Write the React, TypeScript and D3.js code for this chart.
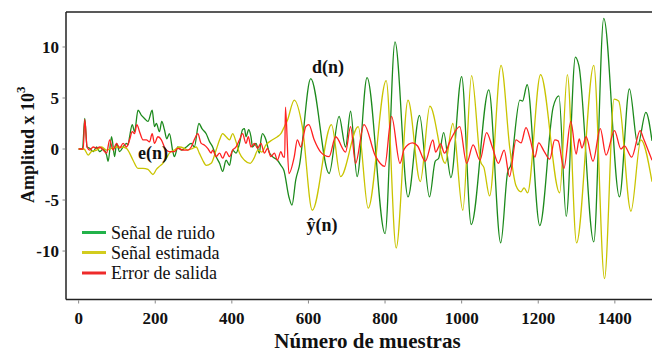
import React from 'react';
import * as d3 from 'd3';

type P = [number, number];

const xTicks = [0, 200, 400, 600, 800, 1000, 1200, 1400];
const yTicks = [-10, -5, 0, 5, 10];
const legendLabels = ['Señal de ruido', 'Señal estimada', 'Error de salida'];
const seriesColors = ['#1c8a1c', '#c9c400', '#ff2020'];
const legendColors = ['#22b24a', '#d2cc1e', '#ee2a2a'];

// d(n): noise signal (x10^3)
const noisePoints: P[] = [
  [0, 0], [10, 0], [16, 3.0], [22, 0.2], [29, 0.07], [38, -0.26], [47, 0.2], [55, -0.26], [64, 0], [73, -0.6],
  [77, -1.2], [86, 1.2], [94, -0.75], [99, 0.55], [107, -0.26], [116, 0.2], [125, 0.55], [129, 0.4], [133, 1.2],
  [140, 2.4], [146, 1.7], [155, 3.8], [164, 3.3], [172, 3.0], [181, 2.7], [192, 3.8], [198, 2.2], [203, 2.5],
  [211, 1.7], [217, 2.7], [224, 1.9], [230, 1.0], [237, 1.5], [246, -0.26], [250, -0.75], [259, 0.2], [268, -0.1],
  [281, 0.2], [294, 0.55], [302, 0.2], [314, 2.5], [322, 2.0], [333, 1.5], [342, 0.7], [350, 0.2], [359, -0.75],
  [368, -1.4], [376, -2.2], [385, -1.1], [394, -1.6], [402, -0.1], [411, -0.4], [420, 0.55], [428, 1.9], [433, 2.0],
  [437, 1.2], [444, 1.9], [450, 1.2], [454, 0.2], [463, 0.55], [472, -0.4], [476, 0.9], [480, 1.5], [489, 0.9],
  [497, -0.26], [506, -0.75], [519, -1.1], [528, -1.6], [536, -2.1], [549, -4.7], [557, -5.5], [567, -3.0],
  [576, -1.7], [606, 6.9], [654, -2.4], [680, 3.2], [697, 0.2], [710, 3.7], [727, -2.7], [753, 7.0], [800, -8.3],
  [826, 10.5], [860, -4.7], [890, 3.3], [916, -4.7], [931, -1.2], [940, -0.9], [953, 1.6], [972, -2.8], [1000, 7.1],
  [1025, -7.4], [1071, 5.8], [1102, -9.2], [1120, -2.3], [1128, -1.6], [1152, 4.8], [1159, 4.7], [1171, 6.3],
  [1204, -7.5], [1239, 4.1], [1254, 5.2], [1273, -6.6], [1297, 9.0], [1306, 8.2], [1345, -9.1], [1371, 12.8],
  [1412, -4.7], [1438, 5.9], [1460, 0.4], [1481, 3.6], [1497, 0.8],
];

// y^(n): estimated signal
const estPoints: P[] = [
  [0, 0], [14, 0], [25, -0.6], [33, -0.26], [47, -0.1], [60, 0.2], [73, -0.1], [86, 0.07], [99, 0.2], [112, 0.2],
  [125, 0.07], [133, -0.4], [142, -1.1], [155, -1.9], [168, -1.9], [181, -2.0], [194, -2.5], [203, -2.0], [211, -1.7],
  [220, -1.4], [229, -0.9], [237, -0.4], [250, -0.1], [263, 0.2], [276, 0.07], [285, -0.1], [298, 0.07], [307, 0.2],
  [315, -0.4], [324, -1.1], [333, -1.6], [346, -1.4], [359, -0.1], [368, 0.9], [376, 1.5], [385, 1.2], [394, 0.9],
  [402, 1.5], [411, 0.7], [420, -0.4], [433, -1.1], [448, -1.4], [458, -0.9], [468, -0.1], [478, -0.3], [489, 0.4],
  [506, 0.9], [519, 1.2], [528, 1.5], [536, 2.1], [545, 2.8], [563, 4.8], [584, 2.2], [610, -6.0], [660, 2.4],
  [684, -2.7], [730, 2.2], [756, -5.8], [803, 6.7], [829, -9.7], [860, 4.8], [892, -3.2], [917, 4.2], [957, -1.4],
  [977, 2.5], [1003, -6.0], [1026, 7.2], [1050, -1.3], [1058, -1.8], [1073, -4.6], [1103, 8.2], [1126, 0.0],
  [1142, -3.6], [1155, -4.2], [1163, -3.8], [1172, -4.3], [1206, 7.3], [1256, -4.3], [1276, 7.3], [1300, -9.2],
  [1345, 8.2], [1373, -12.7], [1398, 4.9], [1410, 4.7], [1442, -6.1], [1468, 0.9], [1497, -3.2],
];

// e(n): output error
const errPoints: P[] = [
  [0, 0], [12, 0], [16, 2.9], [22, 0.2], [29, -0.1], [38, 0.2], [47, 0.07], [55, 0.2], [64, -0.1], [73, -0.4],
  [81, 0.9], [90, -0.1], [99, 0.55], [107, 0.07], [116, 0.55], [125, 0.2], [133, 0.9], [140, 1.7], [146, 1.5],
  [152, 2.4], [159, 1.7], [168, 0.9], [177, 0.9], [185, 0.7], [192, 1.5], [198, 0.55], [207, 1.2], [216, 0.9],
  [224, 0.2], [237, -0.26], [250, -0.26], [259, 0.07], [272, -0.1], [285, -0.1], [294, 0.2], [303, 1.0], [311, 1.5],
  [320, 0.55], [328, 0.4], [337, 0.07], [346, -0.4], [350, -0.1], [359, -0.75], [368, -0.4], [376, -0.9],
  [385, -0.26], [394, -0.75], [402, -0.1], [411, 0.2], [420, 0.9], [428, 1.5], [437, 0.55], [443, 1.2], [450, 0.2],
  [459, 0.55], [467, 0.07], [476, 0.55], [485, -0.4], [493, 0.07], [502, -0.75], [511, -0.4], [519, -1.1],
  [528, -0.26], [534, -0.75], [538, -0.8], [540, 4.1], [549, -2.4], [563, -0.75], [571, 0.9], [580, 0.2], [593, 2.2],
  [601, 2.4], [615, 0.9], [632, -0.3], [654, -0.75], [671, 1.2], [697, -0.3], [710, 2.2], [723, -1.4], [745, 2.4],
  [775, -0.7], [799, -1.7], [817, 3.2], [839, -1.4], [850, 0.0], [872, 0.6], [885, 0.3], [905, -1.2], [925, 0.9],
  [932, -0.3], [945, 0.5], [955, -0.4], [970, 0.8], [995, 2.2], [1013, -1.4], [1030, 0.4], [1048, -1.1], [1065, 1.6],
  [1080, 0.2], [1096, -1.4], [1111, -0.1], [1125, -2.7], [1142, 0.9], [1155, 0.6], [1168, 2.1], [1180, 0.8],
  [1191, -0.8], [1201, 0.6], [1215, -0.2], [1230, -1.0], [1243, 0.9], [1252, 0.8], [1267, -1.9], [1285, 2.7],
  [1299, -0.5], [1307, 1.0], [1314, 0.1], [1325, 1.2], [1343, -1.2], [1362, 2.0], [1377, -0.6], [1399, 1.8],
  [1416, 0.0], [1425, 0.3], [1444, -0.8], [1466, 1.8], [1475, 1.0], [1497, -1.1],
];

const FONT = '"Liberation Serif", "Times New Roman", serif';

export default function App() {
  const W = 652;
  const H = 354;
  const left = 66;
  const right = 652;
  const top = 12;
  const bottom = 299.5;

  const x = d3.scaleLinear().domain([-33, 1497]).range([left, right]);
  const y = d3.scaleLinear().domain([-14.75, 13.43]).range([bottom, top]);

  const line = d3
    .line<P>()
    .x((d) => x(d[0]))
    .y((d) => y(d[1]))
    .curve(d3.curveMonotoneX);

  const series = [noisePoints, estPoints, errPoints];
  const legendY = [232.5, 252.5, 273];

  return (
    <div style={{ position: 'fixed', left: 0, top: 0 }}>
      <svg width={W} height={H} style={{ display: 'block', background: '#fff' }}>
        <defs>
          <clipPath id="plotclip">
            <rect x={left} y={top} width={right - left} height={bottom - top} />
          </clipPath>
        </defs>
        <g clipPath="url(#plotclip)">
          {series.map((s, i) => (
            <path key={i} d={line(s) || ''} fill="none" stroke={seriesColors[i]} strokeWidth={1.3} />
          ))}
        </g>
        {/* frame */}
        <line x1={left} x2={right} y1={top} y2={top} stroke="#222" strokeWidth={1.5} />
        <line x1={left} x2={right} y1={bottom} y2={bottom} stroke="#222" strokeWidth={1.5} />
        <line x1={left} x2={left} y1={top} y2={bottom} stroke="#222" strokeWidth={1.5} />
        {/* y ticks */}
        {yTicks.map((t) => (
          <g key={t}>
            <line x1={62.5} x2={left - 0.75} y1={y(t)} y2={y(t)} stroke="#888" strokeWidth={1} />
            <text x={59} y={y(t)} dy="0.35em" textAnchor="end" fontFamily={FONT} fontWeight="bold" fontSize={17} fill="#111">
              {t}
            </text>
          </g>
        ))}
        {/* x ticks */}
        {xTicks.map((t) => (
          <g key={t}>
            <line x1={x(t)} x2={x(t)} y1={bottom + 0.75} y2={bottom + 4} stroke="#888" strokeWidth={1} />
            <text x={x(t)} y={323.5} textAnchor="middle" fontFamily={FONT} fontWeight="bold" fontSize={17} fill="#111">
              {t}
            </text>
          </g>
        ))}
        {/* axis titles */}
        <text x={367.5} y={348} textAnchor="middle" fontFamily={FONT} fontWeight="bold" fontSize={21} fill="#111">
          Número de muestras
        </text>
        <text transform="translate(33.5,203) rotate(-90)" fontFamily={FONT} fontWeight="bold" fontSize={18} fill="#111">
          Amplitud x 10
          <tspan fontSize={13} dy={-9}>3</tspan>
        </text>
        {/* legend */}
        {legendLabels.map((l, i) => (
          <g key={l}>
            <line x1={82} x2={106} y1={legendY[i]} y2={legendY[i]} stroke={legendColors[i]} strokeWidth={3} />
            <text x={111} y={legendY[i] + 6} fontFamily={FONT} fontSize={18} fill="#111">
              {l}
            </text>
          </g>
        ))}
        {/* annotations */}
        <text x={312} y={72.5} fontFamily={FONT} fontWeight="bold" fontSize={18} fill="#111">d(n)</text>
        <text x={138} y={158.5} fontFamily={FONT} fontWeight="bold" fontSize={18} fill="#111">e(n)</text>
        <text x={306.5} y={231} fontFamily={FONT} fontWeight="bold" fontSize={18} fill="#111">ŷ(n)</text>
      </svg>
    </div>
  );
}
